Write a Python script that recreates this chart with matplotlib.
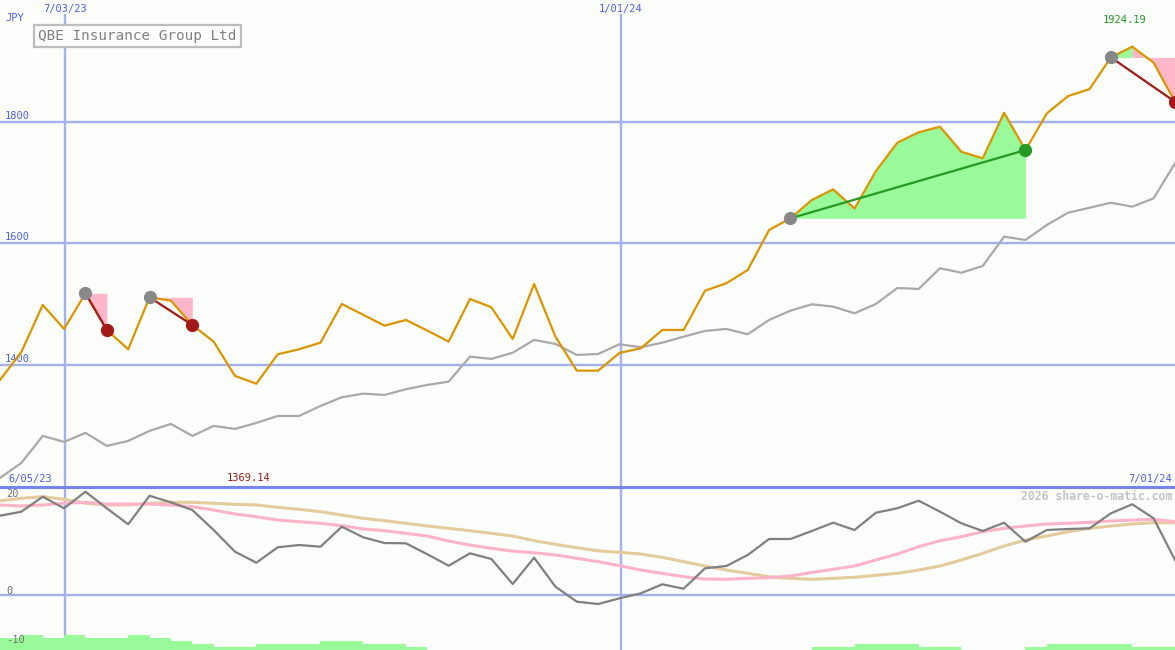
import numpy as np
import matplotlib
matplotlib.use('Agg')
import matplotlib.pyplot as plt
import matplotlib.transforms as mtransforms
from matplotlib.lines import Line2D

# weekly close (JPY) and its moving average
price = [1375.3, 1421.4, 1498.8, 1459.3, 1518.0, 1457.6, 1425.8, 1511.4, 1505.8, 1465.8,
         1438.4, 1381.9, 1369.14, 1417.6, 1425.8, 1436.7, 1500.4, 1482.6, 1464.7, 1474.1,
         1456.6, 1438.4, 1508.6, 1495.0, 1442.8, 1533.3, 1446.6, 1390.6, 1390.6, 1419.8,
         1427.5, 1457.6, 1457.6, 1522.3, 1534.5, 1556.4, 1622.2, 1641.5, 1671.6, 1689.2,
         1657.6, 1719.3, 1765.9, 1783.1, 1792.3, 1751.1, 1740.3, 1815.3, 1753.9, 1814.3,
         1842.8, 1854.3, 1906.5, 1924.19, 1897.6, 1833.4]
avg = [1214.0, 1238.7, 1283.1, 1273.3, 1288.1, 1266.7, 1274.9, 1291.4, 1302.9, 1283.1,
       1299.6, 1294.7, 1304.5, 1316.0, 1316.0, 1332.5, 1346.8, 1352.8, 1350.6, 1360.0,
       1367.1, 1372.5, 1413.7, 1409.9, 1420.2, 1441.2, 1434.6, 1416.5, 1418.1, 1434.1,
       1429.1, 1436.7, 1446.6, 1456.0, 1459.3, 1450.5, 1474.1, 1489.4, 1499.9, 1496.0,
       1485.1, 1500.4, 1526.7, 1525.1, 1559.2, 1551.9, 1563.0, 1611.2, 1605.8, 1630.5,
       1650.7, 1658.9, 1667.2, 1660.6, 1674.4, 1732.0]

# lower panel indicator
mom = [16.35, 17.18, 20.27, 17.88, 21.30, 17.88, 14.58, 20.47, 19.11, 17.53,
       13.40, 8.93, 6.66, 9.84, 10.31, 9.96, 14.08, 11.90, 10.72, 10.66,
       8.41, 6.04, 8.60, 7.42, 2.27, 7.69, 1.71, -1.38, -1.86, -0.68,
       0.35, 2.21, 1.30, 5.51, 5.98, 8.25, 11.55, 11.55, 13.20, 14.91,
       13.40, 16.97, 17.88, 19.44, 17.18, 14.78, 13.20, 14.91, 10.99, 13.40,
       13.61, 13.75, 16.85, 18.70, 15.81, 7.22]
mom_fast = [18.56, 18.35, 18.56, 18.91, 19.11, 18.76, 18.76, 18.76, 18.56, 18.21,
            17.53, 16.70, 16.14, 15.46, 15.11, 14.78, 14.29, 13.61, 13.26, 12.72,
            12.16, 11.13, 10.31, 9.63, 9.05, 8.70, 8.25, 7.57, 6.87, 6.04,
            5.15, 4.47, 3.77, 3.30, 3.24, 3.44, 3.57, 3.92, 4.64, 5.30,
            5.98, 7.22, 8.45, 9.96, 11.20, 12.02, 13.05, 13.75, 14.23, 14.64,
            14.78, 14.99, 15.26, 15.46, 15.61, 15.11]
mom_slow = [19.44, 19.94, 20.27, 19.73, 18.91, 18.56, 18.56, 18.91, 19.11, 19.11,
            18.91, 18.70, 18.56, 18.08, 17.67, 17.18, 16.49, 15.81, 15.32, 14.78,
            14.23, 13.75, 13.26, 12.72, 12.16, 11.20, 10.45, 9.75, 9.10, 8.80,
            8.45, 7.77, 6.87, 5.98, 5.15, 4.47, 3.77, 3.44, 3.24, 3.44,
            3.65, 4.06, 4.47, 5.15, 5.98, 7.22, 8.60, 10.10, 11.34, 12.16,
            13.05, 13.75, 14.23, 14.64, 14.91, 14.91]
bars = [4, 5, 4, 5, 4, 4, 5, 4, 3, 2, 1, 1, 2, 2, 2, 3, 3, 2, 2, 1,
        0, 0, 0, 0, 0, 0, 0, 0, 0, 0, 0, 0, 0, 0, 0, 0, 0, 0,
        1, 1, 2, 2, 2, 1, 1, 0, 0, 0, 1, 2, 2, 2, 2, 1, 1]

# (start, end) index of each marked move
moves = [(4, 5), (7, 9), (37, 48), (52, 55)]

date_labels = ['7/03/23', '1/01/24']
date_pos = [3.04, 29.07]
range_labels = ['6/05/23', '7/01/24']
price_ticks = [1400, 1600, 1800]
mom_ticks = [20, 0, -10]
title = 'QBE Insurance Group Ltd'

bg = '#fbfefb'
blue = '#4d5ef0'
grid = '#a3b0f2'
mono = 'DejaVu Sans Mono'

x = np.arange(len(price))
price_a = np.array(price)

fig = plt.figure(figsize=(11.75, 6.5), dpi=100)
fig.patch.set_facecolor(bg)
ax = fig.add_axes([0, 163 / 650, 1, 487 / 650])
ax2 = fig.add_axes([0, 0, 1, 163 / 650])
for a in (ax, ax2):
    a.set_facecolor(bg)
    a.set_xlim(0, len(price) - 1)
    a.set_xticks([])
    a.set_yticks([])
    for s in a.spines.values():
        s.set_visible(False)
ax.set_ylim(1199, 2001)
ax2.set_ylim(-11.34, 22.27)

# grid
for v in price_ticks:
    ax.axhline(v, color=grid, lw=1.7, zorder=1)
    ax.annotate(str(v), xy=(0, v), xycoords=ax.get_yaxis_transform(),
                xytext=(5, 6), textcoords='offset pixels', va='center',
                color=blue, fontsize=7.5, family=mono)
for p, lab in zip(date_pos, date_labels):
    ax.axvline(p, ymax=1 - 15 / 487, color=grid, lw=1.7, zorder=1)
    ax2.axvline(p, color=grid, lw=1.7, zorder=1)
    ax.annotate(lab, xy=(p, 1), xycoords=ax.get_xaxis_transform(),
                xytext=(0, -9), textcoords='offset pixels', ha='center', va='center',
                color=blue, fontsize=7.5, family=mono)
ax2.axhline(0, color=grid, lw=1.7, zorder=1)
fig.add_artist(Line2D([0, 1], [163 / 650, 163 / 650], transform=fig.transFigure,
                      color='#7585ee', lw=2.2, zorder=5))

# move highlights
for s, e in moves:
    level = price_a[s]
    seg = np.arange(s, e + 1)
    if price_a[e] >= level:
        ax.fill_between(seg, level, price_a[s:e + 1], color='#98fa98', lw=0, zorder=2)
        lc, dc = '#239a23', '#239a23'
    else:
        m = s + int(np.argmax(price_a[s:e + 1]))
        if m > s:
            ax.fill_between(np.arange(s, m + 1), level, price_a[s:m + 1],
                            color='#98fa98', lw=0, zorder=2)
        ax.fill_between(np.arange(m, e + 1), level, price_a[m:e + 1],
                        color='#ffb6c9', lw=0, zorder=2)
        lc, dc = '#a31818', '#a31818'
    ax.plot([s, e], [price_a[s], price_a[e]], color=lc, lw=1.6, zorder=5)
    ax.plot(s, price_a[s], 'o', color='#888888', ms=8.5, zorder=6)
    ax.plot(e, price_a[e], 'o', color=dc, ms=8.5, zorder=6)

ax.plot(x, avg, color='#a9a9a9', lw=1.6, zorder=3)
ax.plot(x, price, color='#dc9500', lw=1.6, zorder=4)

# max / min labels
imax = int(np.argmax(price_a))
imin = int(np.argmin(price_a))
ax.annotate(f'{price_a[imax]:.2f}', xy=(imax, 1), xycoords=ax.get_xaxis_transform(),
            xytext=(-8, -20), textcoords='offset pixels', ha='center', va='center',
            color='#229922', fontsize=7.5, family=mono)
ax.annotate(f'{price_a[imin]:.2f}', xy=(imin, 0), xycoords=ax.get_xaxis_transform(),
            xytext=(-8, 9), textcoords='offset pixels', ha='center', va='center',
            color='#a31818', fontsize=7.5, family=mono)
ax.annotate(range_labels[0], xy=(0, 0), xycoords='axes fraction', xytext=(8, 8),
            textcoords='offset pixels', ha='left', va='center', color=blue,
            fontsize=7.5, family=mono)
ax.annotate(range_labels[1], xy=(1, 0), xycoords='axes fraction', xytext=(-3, 8),
            textcoords='offset pixels', ha='right', va='center', color=blue,
            fontsize=7.5, family=mono)
ax.annotate('JPY', xy=(0, 1), xycoords='axes fraction', xytext=(5, -18),
            textcoords='offset pixels', ha='left', va='center', color=blue,
            fontsize=7.5, family=mono)
ax.annotate(title, xy=(0, 1), xycoords='axes fraction', xytext=(38, -36),
            textcoords='offset pixels', ha='left', va='center', color='#808080',
            fontsize=10.3, family=mono,
            bbox=dict(boxstyle='square,pad=0.3', fc=bg, ec='#bdbdbd', lw=1.6))

# lower panel
ax2.bar(x[:-1], np.array(bars) * 0.62, width=1, align='edge', bottom=-11.34,
        color='#98fa98', lw=0, zorder=2)
ax2.plot(x, mom_slow, color='#e3cb9c', lw=2.2, zorder=3)
ax2.plot(x, mom_fast, color='#ffb3c8', lw=2.2, zorder=3)
ax2.plot(x, mom, color='#808080', lw=1.6, zorder=4)
for v in mom_ticks:
    ax2.annotate(str(v), xy=(0, v), xycoords=ax2.get_yaxis_transform(),
                 xytext=(6, 4), textcoords='offset pixels', va='center',
                 color='#707070', fontsize=7.5, family=mono)
ax2.annotate('2026 share-o-matic.com', xy=(1, 1), xycoords='axes fraction',
             xytext=(-3, -9), textcoords='offset pixels', ha='right', va='center',
             color='#c4c4c4', fontsize=8.3, family=mono, weight='bold')

fig.savefig('out.png', dpi=100, facecolor=bg)
